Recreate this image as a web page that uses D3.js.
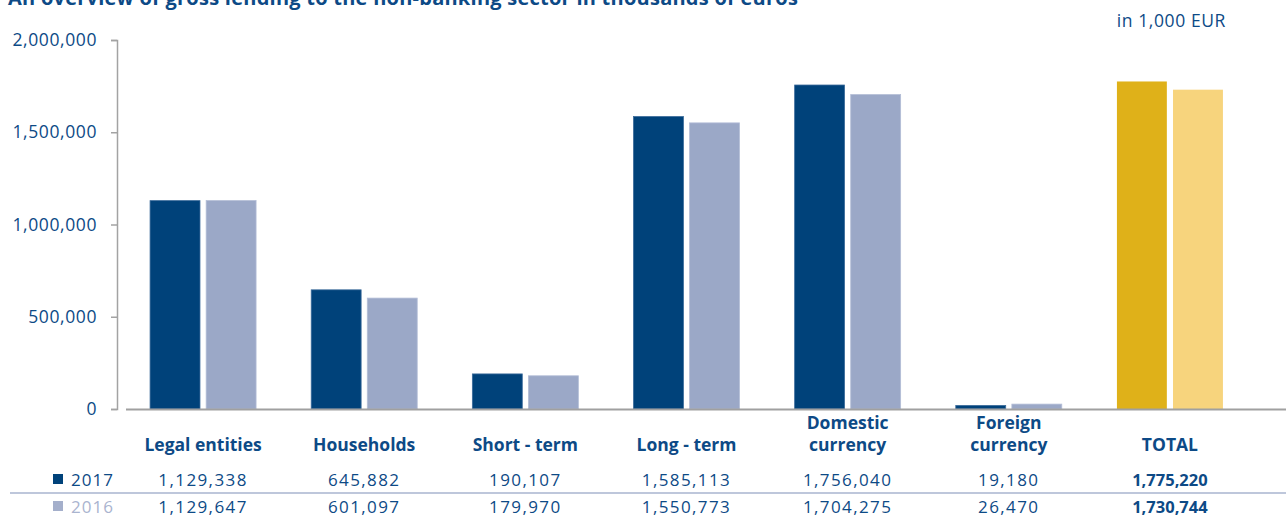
<!DOCTYPE html>
<html>
<head>
<meta charset="utf-8">
<script src="https://cdn.jsdelivr.net/npm/d3@7"></script>
<style>
  html, body { margin: 0; padding: 0; background: #ffffff; }
  svg { display: block; font-family: "Open Sans", "Noto Sans", sans-serif; }
</style>
</head>
<body>
<svg id="chart" width="1286" height="517"></svg>
<script>
// Gross lending to the non-banking sector, in 1,000 EUR
const categories = [
  ["Legal entities"],
  ["Households"],
  ["Short - term"],
  ["Long - term"],
  ["Domestic", "currency"],
  ["Foreign", "currency"],
  ["TOTAL"]
];
const years = ["2017", "2016"];
const values2017 = [1129338, 645882, 190107, 1585113, 1756040, 19180, 1775220];
const values2016 = [1129647, 601097, 179970, 1550773, 1704275, 26470, 1730744];
const yTicks = [0, 500000, 1000000, 1500000, 2000000];

const title = "An overview of gross lending to the non-banking sector in thousands of euros";
const unitNote = "in 1,000 EUR";

const blue = "#0d4a86";
const colors = {
  "2017": "#00427a",
  "2016": "#9ba8c7",
  total2017: "#dfb119",
  total2016: "#f7d47d"
};

const svg = d3.select("#chart");
const fmt = d3.format(",");

const x = d3.scaleBand()
  .domain(d3.range(categories.length))
  .range([122.5, 1250.5])
  .paddingInner(0)
  .paddingOuter(0);

const xInner = d3.scaleBand()
  .domain(years)
  .range([0, 106])
  .paddingInner(0.11);

const y = d3.scaleLinear().domain([0, 2000000]).range([409, 40]);

// Title, running off the top edge of the page
svg.append("text")
  .attr("x", 8).attr("y", 5)
  .attr("font-size", 20).attr("font-weight", 700)
  .attr("letter-spacing", 0.25)
  .attr("fill", blue)
  .text(title);

svg.append("text")
  .attr("x", 1226).attr("y", 27)
  .attr("text-anchor", "end")
  .attr("font-size", 17.5)
  .attr("letter-spacing", 0.6)
  .attr("fill", blue)
  .text(unitNote);

// Y axis
const yAxis = d3.axisLeft(y)
  .tickValues(yTicks)
  .tickFormat(fmt)
  .tickSize(6)
  .tickPadding(14);

const gy = svg.append("g")
  .attr("transform", "translate(117,0)")
  .call(yAxis);
gy.select(".domain").attr("stroke", "#a3a3a3").attr("stroke-width", 1.5);
gy.selectAll(".tick line").attr("stroke", "#a3a3a3").attr("stroke-width", 1.5);
gy.selectAll(".tick text")
  .attr("fill", blue)
  .attr("font-size", 17.5)
  .attr("letter-spacing", 0.6)
  .attr("font-family", "\"Open Sans\", \"Noto Sans\", sans-serif");

// Bars
const rows = categories.map((c, i) => ({ i, v2017: values2017[i], v2016: values2016[i] }));
const last = categories.length - 1;

const groups = svg.append("g").selectAll("g")
  .data(rows)
  .join("g")
  .attr("transform", d => `translate(${x(d.i) + (x.bandwidth() - 106) / 2},0)`);

groups.selectAll("rect")
  .data(d => years.map(yr => ({ yr, i: d.i, v: d["v" + yr] })))
  .join("rect")
  .attr("x", d => xInner(d.yr))
  .attr("y", d => y(d.v))
  .attr("width", xInner.bandwidth())
  .attr("height", d => y(0) - y(d.v))
  .attr("fill", d => d.i === last ? colors["total" + d.yr] : colors[d.yr])
  .attr("stroke", d => d.i === last ? "none" : (d.yr === "2017" ? "#3a6a9a" : "#b3bdd6"))
  .attr("stroke-width", 0.8);

// Baseline
svg.append("line")
  .attr("x1", 126).attr("x2", 1286)
  .attr("y1", y(0) + 0.5).attr("y2", y(0) + 0.5)
  .attr("stroke", "#a0a0a0").attr("stroke-width", 2);

// Category labels
const labels = svg.append("g").selectAll("text")
  .data(rows)
  .join("text")
  .attr("text-anchor", "middle")
  .attr("font-size", 17.5)
  .attr("font-weight", 700)
  .attr("fill", blue)
  .attr("x", d => x(d.i) + x.bandwidth() / 2);

labels.each(function(d) {
  const lines = categories[d.i];
  const t = d3.select(this);
  lines.forEach((ln, k) => {
    t.append("tspan")
      .attr("x", x(d.i) + x.bandwidth() / 2)
      .attr("y", 451 - (lines.length - 1 - k) * 22.5)
      .text(ln);
  });
});

// Data table
const rowY = { "2017": 486, "2016": 513 };
svg.append("line")
  .attr("x1", 10).attr("x2", 1286)
  .attr("y1", 493).attr("y2", 493)
  .attr("stroke", "#a9b4cf").attr("stroke-width", 1.5);

years.forEach(yr => {
  svg.append("rect")
    .attr("x", 53).attr("y", rowY[yr] - 12)
    .attr("width", 10).attr("height", 10)
    .attr("fill", yr === "2017" ? colors["2017"] : "#a4afcb");
  svg.append("text")
    .attr("x", 71).attr("y", rowY[yr])
    .attr("font-size", 17)
    .attr("letter-spacing", 1)
    .attr("fill", yr === "2017" ? blue : "#aab4cf")
    .text(yr);
  svg.append("g").selectAll("text")
    .data(rows)
    .join("text")
    .attr("x", d => x(d.i) + x.bandwidth() / 2)
    .attr("y", rowY[yr])
    .attr("text-anchor", "middle")
    .attr("font-size", d => d.i === last ? 16.5 : 17)
    .attr("letter-spacing", d => d.i === last ? 0 : 1.4)
    .attr("font-weight", d => d.i === last ? 700 : 400)
    .attr("fill", blue)
    .text(d => fmt(d["v" + yr]));
});
</script>
</body>
</html>
